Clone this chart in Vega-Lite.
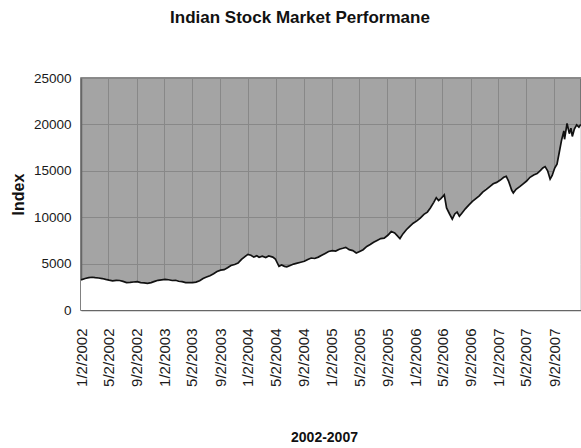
{
  "$schema": "https://vega.github.io/schema/vega-lite/v6.json",
  "autosize": "none",
  "padding": {"left": 81, "top": 78, "right": 0, "bottom": 138},
  "width": 500,
  "height": 232,
  "background": "white",
  "title": {
    "text": "Indian Stock Market Performane",
    "font": "Liberation Sans, Arial",
    "fontSize": 17,
    "fontWeight": "bold",
    "color": "#111111",
    "anchor": "middle",
    "frame": "group",
    "offset": 44,
    "dx": -31
  },
  "data": {
    "values": [
      {"date": "2002/01/02", "value": 3250},
      {"date": "2002/01/20", "value": 3400},
      {"date": "2002/02/05", "value": 3480},
      {"date": "2002/02/20", "value": 3530},
      {"date": "2002/03/05", "value": 3480},
      {"date": "2002/03/20", "value": 3450},
      {"date": "2002/04/05", "value": 3390},
      {"date": "2002/04/20", "value": 3300},
      {"date": "2002/05/05", "value": 3220},
      {"date": "2002/05/20", "value": 3150},
      {"date": "2002/06/05", "value": 3200},
      {"date": "2002/06/20", "value": 3180},
      {"date": "2002/07/05", "value": 3080},
      {"date": "2002/07/20", "value": 2960},
      {"date": "2002/08/05", "value": 2980},
      {"date": "2002/08/20", "value": 3020},
      {"date": "2002/09/05", "value": 3050},
      {"date": "2002/09/20", "value": 2950},
      {"date": "2002/10/05", "value": 2920},
      {"date": "2002/10/20", "value": 2870},
      {"date": "2002/11/05", "value": 2950},
      {"date": "2002/11/20", "value": 3080},
      {"date": "2002/12/05", "value": 3200},
      {"date": "2002/12/20", "value": 3250},
      {"date": "2003/01/05", "value": 3300},
      {"date": "2003/01/20", "value": 3260},
      {"date": "2003/02/05", "value": 3180},
      {"date": "2003/02/20", "value": 3200},
      {"date": "2003/03/05", "value": 3100},
      {"date": "2003/03/20", "value": 3050},
      {"date": "2003/04/05", "value": 2960},
      {"date": "2003/04/20", "value": 2940},
      {"date": "2003/05/05", "value": 2950},
      {"date": "2003/05/20", "value": 3000},
      {"date": "2003/06/05", "value": 3150},
      {"date": "2003/06/20", "value": 3400},
      {"date": "2003/07/05", "value": 3550},
      {"date": "2003/07/20", "value": 3700},
      {"date": "2003/08/05", "value": 3900},
      {"date": "2003/08/20", "value": 4150},
      {"date": "2003/09/05", "value": 4300},
      {"date": "2003/09/20", "value": 4350},
      {"date": "2003/10/05", "value": 4550},
      {"date": "2003/10/20", "value": 4800},
      {"date": "2003/11/05", "value": 4900},
      {"date": "2003/11/20", "value": 5050},
      {"date": "2003/12/05", "value": 5450},
      {"date": "2003/12/20", "value": 5750},
      {"date": "2004/01/02", "value": 6000},
      {"date": "2004/01/15", "value": 5900},
      {"date": "2004/01/28", "value": 5700},
      {"date": "2004/02/10", "value": 5850},
      {"date": "2004/02/20", "value": 5680},
      {"date": "2004/03/05", "value": 5800},
      {"date": "2004/03/20", "value": 5650},
      {"date": "2004/04/02", "value": 5820},
      {"date": "2004/04/20", "value": 5700},
      {"date": "2004/05/01", "value": 5500},
      {"date": "2004/05/17", "value": 4700},
      {"date": "2004/05/28", "value": 4850},
      {"date": "2004/06/10", "value": 4700},
      {"date": "2004/06/20", "value": 4650},
      {"date": "2004/07/05", "value": 4800},
      {"date": "2004/07/20", "value": 4950},
      {"date": "2004/08/05", "value": 5050},
      {"date": "2004/08/20", "value": 5150},
      {"date": "2004/09/05", "value": 5250},
      {"date": "2004/09/20", "value": 5450},
      {"date": "2004/10/05", "value": 5600},
      {"date": "2004/10/20", "value": 5550},
      {"date": "2004/11/05", "value": 5700},
      {"date": "2004/11/20", "value": 5900},
      {"date": "2004/12/05", "value": 6100},
      {"date": "2004/12/20", "value": 6300},
      {"date": "2005/01/05", "value": 6400},
      {"date": "2005/01/20", "value": 6350},
      {"date": "2005/02/05", "value": 6550},
      {"date": "2005/02/20", "value": 6650},
      {"date": "2005/03/05", "value": 6750},
      {"date": "2005/03/20", "value": 6500},
      {"date": "2005/04/05", "value": 6400},
      {"date": "2005/04/20", "value": 6150},
      {"date": "2005/05/05", "value": 6300},
      {"date": "2005/05/20", "value": 6500},
      {"date": "2005/06/05", "value": 6850},
      {"date": "2005/06/20", "value": 7050},
      {"date": "2005/07/05", "value": 7300},
      {"date": "2005/07/20", "value": 7500},
      {"date": "2005/08/05", "value": 7700},
      {"date": "2005/08/20", "value": 7750},
      {"date": "2005/09/05", "value": 8050},
      {"date": "2005/09/20", "value": 8450},
      {"date": "2005/10/05", "value": 8300},
      {"date": "2005/10/20", "value": 7900},
      {"date": "2005/10/28", "value": 7700},
      {"date": "2005/11/10", "value": 8200},
      {"date": "2005/11/25", "value": 8650},
      {"date": "2005/12/10", "value": 9000},
      {"date": "2005/12/25", "value": 9350},
      {"date": "2006/01/10", "value": 9600},
      {"date": "2006/01/25", "value": 9900},
      {"date": "2006/02/10", "value": 10300},
      {"date": "2006/02/25", "value": 10550},
      {"date": "2006/03/10", "value": 11000},
      {"date": "2006/03/25", "value": 11600},
      {"date": "2006/04/05", "value": 12100},
      {"date": "2006/04/15", "value": 11800},
      {"date": "2006/04/25", "value": 12000},
      {"date": "2006/05/10", "value": 12400},
      {"date": "2006/05/20", "value": 11000},
      {"date": "2006/06/01", "value": 10400},
      {"date": "2006/06/14", "value": 9800},
      {"date": "2006/06/25", "value": 10350},
      {"date": "2006/07/05", "value": 10550},
      {"date": "2006/07/15", "value": 10100},
      {"date": "2006/07/25", "value": 10400},
      {"date": "2006/08/10", "value": 10900},
      {"date": "2006/08/25", "value": 11300},
      {"date": "2006/09/10", "value": 11700},
      {"date": "2006/09/25", "value": 12000},
      {"date": "2006/10/10", "value": 12300},
      {"date": "2006/10/25", "value": 12700},
      {"date": "2006/11/10", "value": 13000},
      {"date": "2006/11/25", "value": 13300},
      {"date": "2006/12/10", "value": 13600},
      {"date": "2006/12/25", "value": 13750},
      {"date": "2007/01/10", "value": 14000},
      {"date": "2007/01/25", "value": 14300},
      {"date": "2007/02/05", "value": 14400},
      {"date": "2007/02/15", "value": 13900},
      {"date": "2007/03/01", "value": 12900},
      {"date": "2007/03/08", "value": 12600},
      {"date": "2007/03/20", "value": 13000},
      {"date": "2007/04/05", "value": 13300},
      {"date": "2007/04/20", "value": 13600},
      {"date": "2007/05/05", "value": 13900},
      {"date": "2007/05/20", "value": 14300},
      {"date": "2007/06/05", "value": 14550},
      {"date": "2007/06/20", "value": 14700},
      {"date": "2007/07/05", "value": 15050},
      {"date": "2007/07/15", "value": 15300},
      {"date": "2007/07/25", "value": 15450},
      {"date": "2007/08/05", "value": 15000},
      {"date": "2007/08/16", "value": 14100},
      {"date": "2007/08/25", "value": 14500},
      {"date": "2007/09/05", "value": 15300},
      {"date": "2007/09/15", "value": 15700},
      {"date": "2007/09/25", "value": 17000},
      {"date": "2007/10/05", "value": 18300},
      {"date": "2007/10/15", "value": 19300},
      {"date": "2007/10/18", "value": 18400},
      {"date": "2007/10/29", "value": 20100},
      {"date": "2007/11/08", "value": 19000},
      {"date": "2007/11/15", "value": 19600},
      {"date": "2007/11/21", "value": 18700},
      {"date": "2007/11/30", "value": 19500},
      {"date": "2007/12/10", "value": 19950},
      {"date": "2007/12/20", "value": 19700},
      {"date": "2007/12/28", "value": 20000}
    ]
  },
  "encoding": {
    "x": {
      "field": "date",
      "type": "temporal",
      "scale": {"domain": [{"year": 2002, "month": 1, "date": 2}, {"year": 2007, "month": 12, "date": 29}]},
      "axis": {
        "title": "2002-2007",
        "values": [
          {"year": 2002, "month": 1, "date": 2}, {"year": 2002, "month": 5, "date": 2}, {"year": 2002, "month": 9, "date": 2},
          {"year": 2003, "month": 1, "date": 2}, {"year": 2003, "month": 5, "date": 2}, {"year": 2003, "month": 9, "date": 2},
          {"year": 2004, "month": 1, "date": 2}, {"year": 2004, "month": 5, "date": 2}, {"year": 2004, "month": 9, "date": 2},
          {"year": 2005, "month": 1, "date": 2}, {"year": 2005, "month": 5, "date": 2}, {"year": 2005, "month": 9, "date": 2},
          {"year": 2006, "month": 1, "date": 2}, {"year": 2006, "month": 5, "date": 2}, {"year": 2006, "month": 9, "date": 2},
          {"year": 2007, "month": 1, "date": 2}, {"year": 2007, "month": 5, "date": 2}, {"year": 2007, "month": 9, "date": 2}
        ],
        "format": "%-m/%-d/%Y",
        "labelAngle": 270,
        "labelAlign": "right",
        "labelBaseline": "middle",
        "labelFont": "Liberation Sans, Arial",
        "labelFontSize": 15,
        "labelColor": "#1a1a1a",
        "labelPadding": 18,
        "labelOverlap": false,
        "labelFlush": false,
        "ticks": false,
        "domain": true,
        "domainColor": "#666666",
        "domainWidth": 1.5,
        "grid": true,
        "gridColor": "#888888",
        "gridWidth": 1,
        "titleFont": "Liberation Sans, Arial",
        "titleFontSize": 14,
        "titleFontWeight": "bold",
        "titleColor": "#111111",
        "titlePadding": 44,
        "titleX": 243
      }
    },
    "y": {
      "field": "value",
      "type": "quantitative",
      "scale": {"domain": [0, 25000], "nice": false},
      "axis": {
        "title": "Index",
        "values": [0, 5000, 10000, 15000, 20000, 25000],
        "format": "d",
        "labelFont": "Liberation Sans, Arial",
        "labelFontSize": 13.5,
        "labelColor": "#1a1a1a",
        "labelPadding": 10,
        "ticks": false,
        "domain": true,
        "domainColor": "#666666",
        "domainWidth": 1.5,
        "grid": true,
        "gridColor": "#888888",
        "gridWidth": 1,
        "titleFont": "Liberation Sans, Arial",
        "titleFontSize": 16,
        "titleFontWeight": "bold",
        "titleColor": "#111111",
        "titlePadding": 7
      }
    }
  },
  "layer": [
    {"mark": {"type": "area", "color": "white", "opacity": 1}},
    {"mark": {"type": "line", "color": "#111111", "strokeWidth": 1.7}}
  ],
  "config": {
    "view": {"fill": "#a4a4a4", "stroke": "#666666", "strokeWidth": 1.5}
  }
}
